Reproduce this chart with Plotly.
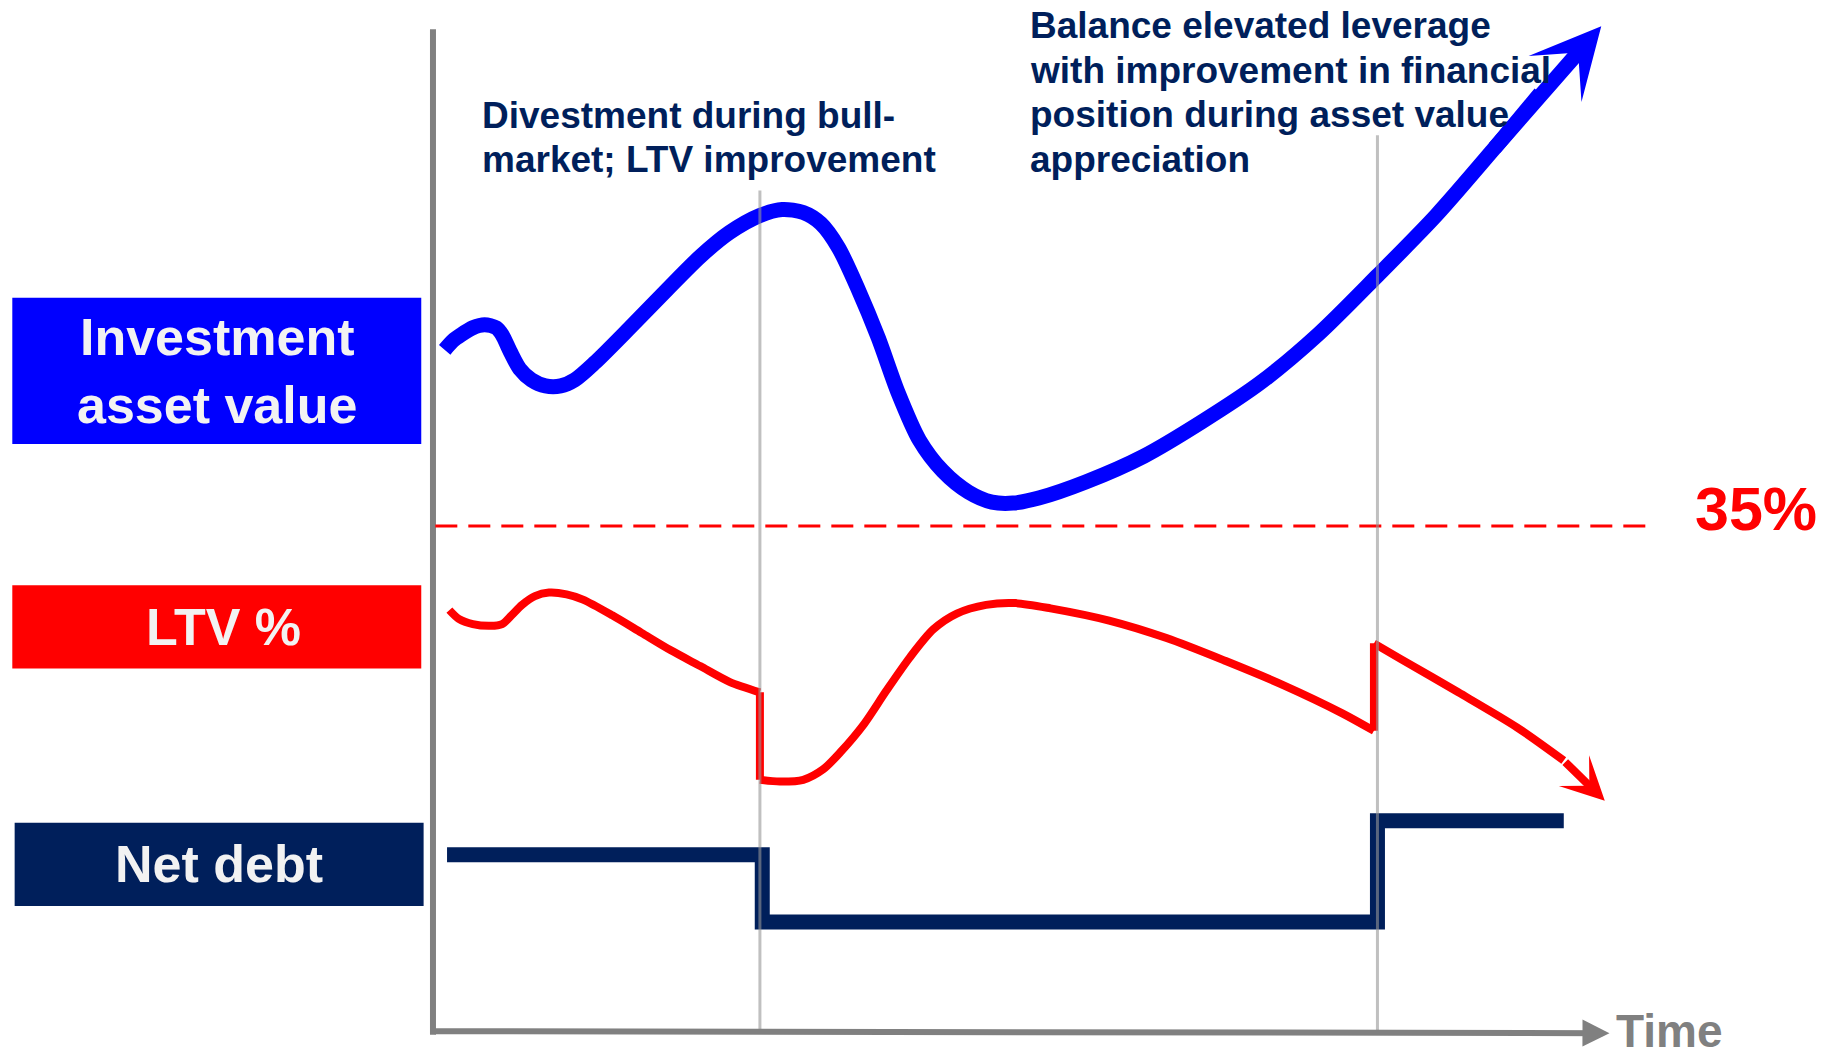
import plotly.graph_objects as go

# ---- data -------------------------------------------------------------
# Time runs from 0 (start) to 100 (end of horizon); levels are index values.
asset_t = [1.0, 1.7, 2.4, 3.4, 4.4, 5.4, 5.9, 6.6, 7.4, 8.4, 9.6, 10.9, 12.1,
           13.8, 16.8, 19.8, 22.8, 25.3, 27.9, 29.8, 31.6, 33.1, 34.6, 36.3,
           38.0, 39.7, 41.5, 43.5, 45.7, 47.7, 49.5, 51.7, 55.7, 60.7, 65.6,
           70.6, 75.6, 80.6, 85.6, 90.5, 94.5, 99.7]
asset_v = [68.0, 68.9, 69.5, 70.2, 70.5, 70.2, 69.5, 67.8, 66.1, 65.0, 64.4,
           64.4, 65.0, 66.7, 70.2, 73.8, 77.3, 79.7, 81.4, 82.0, 81.7, 80.6,
           78.2, 74.0, 69.2, 63.7, 59.0, 55.9, 53.8, 52.8, 52.7, 53.2, 54.8,
           57.4, 60.8, 64.7, 69.6, 75.4, 81.4, 88.0, 93.6, 100.3]

# LTV in percent, split at the divestment and at the re-leveraging step
ltv_pre_t = [1.4, 2.2, 3.4, 4.9, 5.9, 6.7, 7.6, 8.7, 9.9, 11.4, 12.8, 15.3,
             17.8, 20.3, 22.8, 25.3, 27.9]
ltv_pre_v = [30.2, 29.7, 29.4, 29.3, 29.4, 29.9, 30.5, 31.0, 31.2, 31.1, 30.8,
             29.9, 28.9, 27.9, 27.0, 26.1, 25.5]
ltv_mid_t = [27.9, 29.6, 31.6, 33.3, 34.8, 36.8, 38.7, 40.7, 42.7, 44.7, 47.2,
             49.7, 52.7, 57.7, 62.6, 67.6, 72.6, 77.6, 80.3]
ltv_mid_v = [20.5, 20.4, 20.5, 21.1, 22.1, 23.7, 25.6, 27.5, 29.1, 30.0, 30.5,
             30.6, 30.3, 29.6, 28.6, 27.3, 25.9, 24.3, 23.3]
ltv_post_t = [80.3, 82.6, 87.5, 92.5, 96.5, 100.0]
ltv_post_v = [28.3, 27.4, 25.5, 23.5, 21.6, 19.3]

ltv_limit = 35  # LTV ceiling, %

debt_t = [1.2, 28.1, 80.6, 96.5]
debt_v = [17.6, 10.9, 21.0, 21.0]

event_t = [27.9, 80.6]          # divestment, balance phase
event_top = [83.9, 89.4]

series_labels = ["Investment<br>asset value", "LTV %", "Net debt"]
note_divest = ["Divestment during bull-", "market; LTV improvement"]
note_balance = ["Balance elevated leverage", "with improvement in financial",
                "position during asset value", "appreciation"]

# ---- styling ----------------------------------------------------------
BLUE = "#0000FF"
RED = "#FF0000"
NAVY = "#001F5B"
GREY = "#808080"
FONT = "Liberation Sans, Arial, sans-serif"
ASSET_W, LTV_W, DEBT_W, AXIS_W = 15, 8, 15, 6

fig = go.Figure()

# asset value curve (the final stretch is drawn as an arrow below)
fig.add_trace(go.Scatter(
    x=asset_t[:-1], y=asset_v[:-1], mode="lines",
    line=dict(color=BLUE, width=ASSET_W, shape="spline", smoothing=0.8),
    hoverinfo="skip"))

# LTV curve on its own percentage axis
fig.add_trace(go.Scatter(
    x=ltv_pre_t, y=ltv_pre_v, yaxis="y2", mode="lines",
    line=dict(color=RED, width=LTV_W, shape="spline", smoothing=0.8),
    hoverinfo="skip"))
fig.add_trace(go.Scatter(
    x=[ltv_pre_t[-1], ltv_mid_t[0]], y=[ltv_pre_v[-1], ltv_mid_v[0]],
    yaxis="y2", mode="lines", line=dict(color=RED, width=LTV_W),
    hoverinfo="skip"))
fig.add_trace(go.Scatter(
    x=ltv_mid_t, y=ltv_mid_v, yaxis="y2", mode="lines",
    line=dict(color=RED, width=LTV_W, shape="spline", smoothing=0.8),
    hoverinfo="skip"))
fig.add_trace(go.Scatter(
    x=[ltv_mid_t[-1], ltv_post_t[0]], y=[ltv_mid_v[-1], ltv_post_v[0]],
    yaxis="y2", mode="lines", line=dict(color=RED, width=LTV_W),
    hoverinfo="skip"))
fig.add_trace(go.Scatter(
    x=ltv_post_t[:-1], y=ltv_post_v[:-1], yaxis="y2", mode="lines",
    line=dict(color=RED, width=LTV_W, shape="spline", smoothing=0.8),
    hoverinfo="skip"))

# net debt step line
fig.add_trace(go.Scatter(
    x=debt_t, y=debt_v, mode="lines",
    line=dict(color=NAVY, width=DEBT_W, shape="hv"),
    hoverinfo="skip"))

shapes = [
    # vertical value axis
    dict(type="line", xref="x", yref="y", x0=0, x1=0, y0=-0.35, y1=100,
         line=dict(color=GREY, width=AXIS_W), layer="below"),
    # LTV ceiling
    dict(type="line", xref="x", yref="y2", x0=0.2, x1=103.7,
         y0=ltv_limit, y1=ltv_limit,
         line=dict(color=RED, width=3, dash="22px,11px"), layer="below"),
]
for t, top in zip(event_t, event_top):
    shapes.append(dict(type="line", xref="x", yref="y", x0=t, x1=t,
                       y0=0, y1=top, layer="above",
                       line=dict(color="rgba(150,150,150,0.6)", width=3)))

annotations = []


def arrow(x0, y0, x1, y1, color, width, head, size, yref="y"):
    """Arrow from (x0, y0) to a head at (x1, y1) in data coordinates."""
    return dict(x=x1, y=y1, ax=x0, ay=y0, xref="x", yref=yref,
                axref="x", ayref=yref, text="", showarrow=True,
                arrowhead=head, arrowsize=size, arrowwidth=width,
                arrowcolor=color, standoff=0, startstandoff=0)


annotations += [
    # shaft starts one point earlier so it overlaps the curve end
    arrow(asset_t[-3], asset_v[-3], asset_t[-1], asset_v[-1],
          BLUE, ASSET_W, 3, 0.78),
    arrow(ltv_post_t[-2], ltv_post_v[-2], ltv_post_t[-1], ltv_post_v[-1],
          RED, LTV_W, 3, 0.9, yref="y2"),
    # time axis
    arrow(0, 0, 100.4, -0.2, GREY, AXIS_W, 2, 0.9),
]

# coloured label boxes on the left
box_specs = [
    (-35.9, -1.0, 58.6, 73.2, BLUE, 0.0),
    (-35.9, -1.0, 36.2, 44.5, RED, 0.6),
    (-35.7, -0.8, 12.5, 20.8, NAVY, 0.0),
]
for (x0, x1, y0, y1, col, dx), label in zip(box_specs, series_labels):
    shapes.append(dict(type="rect", xref="x", yref="y", x0=x0, x1=x1,
                       y0=y0, y1=y1, fillcolor=col, line=dict(width=0),
                       layer="below"))
    annotations.append(dict(
        x=(x0 + x1) / 2 + dx, y=(y0 + y1) / 2, xref="x", yref="y",
        text=f"<b>{label}</b>", showarrow=False,
        font=dict(family=FONT, size=52, color="#F2F2F2"),
        xanchor="center", yanchor="middle", align="center"))

# phase notes, one annotation per line for tight line spacing
NOTE_STEP = 4.45
for x0, y0, lines in [(4.0, 91.4, note_divest), (50.8, 100.35, note_balance)]:
    for i, line in enumerate(lines):
        annotations.append(dict(
            x=x0, y=y0 - i * NOTE_STEP, xref="x", yref="y",
            text=f"<b>{line}</b>", showarrow=False,
            xanchor="left", yanchor="middle", align="left",
            font=dict(family=FONT, size=37, color=NAVY)))

annotations += [
    dict(x=112.9, y=ltv_limit + 1.0, xref="x", yref="y2",
         text=f"<b>{ltv_limit}%</b>", showarrow=False,
         xanchor="center", yanchor="middle",
         font=dict(family=FONT, size=61, color=RED)),
    dict(x=100.8, y=0.0, xref="x", yref="y", text="<b>Time</b>",
         showarrow=False, xanchor="left", yanchor="middle",
         font=dict(family=FONT, size=46, color=GREY)),
]

fig.update_layout(
    width=1830, height=1058,
    margin=dict(l=0, r=0, t=0, b=0),
    paper_bgcolor="white", plot_bgcolor="white",
    showlegend=False,
    xaxis=dict(range=[-36.95, 119.22], visible=False, fixedrange=True),
    yaxis=dict(range=[-2.68, 102.91], visible=False, fixedrange=True),
    yaxis2=dict(range=[4.6, 65.07], visible=False, overlaying="y",
                fixedrange=True),
    shapes=shapes,
    annotations=annotations,
)

fig.write_html("out.html")
